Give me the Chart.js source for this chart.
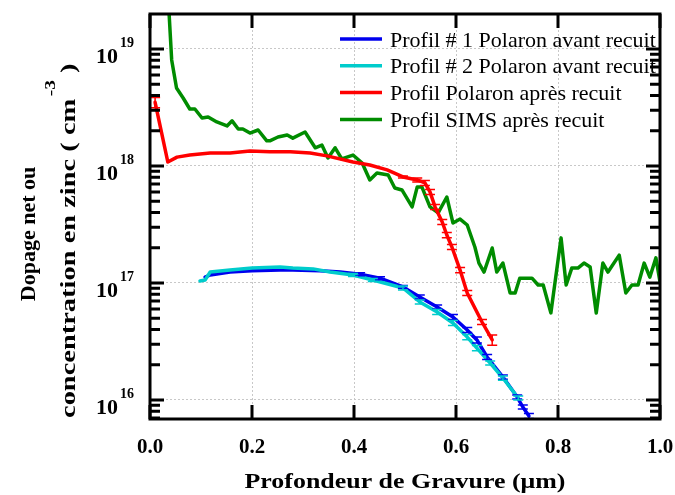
<!DOCTYPE html>
<html><head><meta charset="utf-8">
<script src="https://cdn.jsdelivr.net/npm/chart.js@4/dist/chart.umd.min.js"></script>
<style>html,body{margin:0;padding:0;background:#fff}#wrap{width:675px;height:495px}</style>
</head><body><div id="wrap"><canvas id="c" width="675" height="495"></canvas></div>
<script>
// ---- data ----
const xTickValues = [0, 0.2, 0.4, 0.6, 0.8, 1.0];
const yDecades = [16, 17, 18, 19];
const seriesLabels = ["Profil # 1 Polaron avant recuit", "Profil # 2 Polaron avant recuit", "Profil Polaron après recuit", "Profil SIMS après recuit"];
const xTitle = "Profondeur de Gravure (μm)";
const yTitle1 = "Dopage net ou";
const yTitle2 = "concentration en zinc ( cm";
const yTitleSup = "-3";
const yTitleEnd = " )";

const p1X = [0.108,0.118,0.157,0.200,0.255,0.280,0.333,0.373,0.412,0.451,0.496,0.529,0.563,0.594,0.622,0.641,0.661,0.692,0.720,0.731,0.743];
const p1Y = [1.12e17,1.17e17,1.24e17,1.27e17,1.29e17,1.29e17,1.27e17,1.24e17,1.19e17,1.10e17,9.25e16,7.59e16,6.24e16,5.12e16,3.97e16,3.26e16,2.33e16,1.57e16,1.06e16,8.71e15,7.3e15];
const p1Err = [0,0,0,0,0,0,0,0,0.03,0.03,0.03,0.04,0.04,0.05,0.05,0.06,0.05,0.04,0.04,0.04,0.05];

const p2X = [0.098,0.108,0.118,0.157,0.200,0.255,0.280,0.320,0.353,0.398,0.437,0.496,0.529,0.563,0.594,0.622,0.641,0.667,0.692,0.722];
const p2Y = [1.04e17,1.06e17,1.24e17,1.29e17,1.34e17,1.37e17,1.34e17,1.32e17,1.24e17,1.17e17,1.06e17,9.06e16,6.89e16,5.65e16,4.55e16,3.45e16,2.78e16,2.07e16,1.54e16,1.04e16];
const p2Err = [0,0,0,0,0,0,0,0,0,0.03,0.03,0.04,0.04,0.05,0.05,0.05,0.05,0.04,0.04,0.04];

const prX = [0.010,0.035,0.053,0.078,0.118,0.157,0.196,0.235,0.275,0.314,0.347,0.398,0.431,0.465,0.496,0.524,0.539,0.549,0.559,0.573,0.582,0.592,0.608,0.622,0.651,0.671];
const prY = [3.5e18,1.08e18,1.19e18,1.24e18,1.29e18,1.29e18,1.34e18,1.32e18,1.32e18,1.29e18,1.22e18,1.08e18,1.02e18,9.25e17,8.06e17,7.59e17,7.16e17,6.0e17,4.47e17,3.32e17,2.57e17,2.03e17,1.29e17,8.22e16,4.64e16,3.26e16];
const prErr = [0.10,0,0,0,0,0,0,0,0,0,0,0,0,0,0.02,0.04,0.05,0.05,0.05,0.05,0.05,0.05,0.05,0.05,0.05,0.10];

const simsX = [0.036,0.0425,0.052,0.065,0.078,0.088,0.102,0.114,0.131,0.151,0.161,0.173,0.182,0.196,0.212,0.229,0.235,0.251,0.269,0.280,0.304,0.324,0.337,0.349,0.363,0.376,0.398,0.416,0.431,0.445,0.467,0.480,0.494,0.514,0.524,0.533,0.549,0.565,0.582,0.594,0.608,0.622,0.637,0.645,0.655,0.671,0.680,0.692,0.706,0.716,0.725,0.749,0.761,0.771,0.786,0.806,0.816,0.827,0.839,0.851,0.863,0.875,0.888,0.898,0.920,0.933,0.945,0.957,0.969,0.980,0.992,1.000];
const simsY = [2.6e19,8.06e18,4.64e18,3.81e18,3.07e18,3.07e18,2.57e18,2.62e18,2.38e18,2.20e18,2.43e18,2.07e18,2.07e18,1.91e18,2.03e18,1.64e18,1.64e18,1.77e18,1.84e18,1.73e18,1.95e18,1.43e18,1.51e18,1.17e18,1.43e18,1.15e18,1.24e18,1.06e18,7.59e17,8.71e17,8.37e17,6.49e17,6.24e17,4.47e17,6.62e17,6.62e17,4.47e17,3.97e17,5.43e17,3.26e17,3.52e17,3.13e17,2.03e17,1.48e17,1.24e17,1.99e17,1.24e17,1.48e17,8.22e16,8.22e16,1.10e17,1.10e17,9.62e16,9.62e16,5.55e16,2.43e17,9.62e16,1.34e17,1.34e17,1.48e17,1.37e17,5.55e16,1.48e17,1.24e17,1.73e17,8.22e16,9.62e16,9.62e16,1.48e17,1.12e17,1.64e17,1.02e17];

const seriesColors = ["#0000ee", "#00cccc", "#ff0000", "#008c00"];

// ---- build datasets ----
function pts(xs, ys) { return xs.map((x, i) => ({ x: x, y: ys[i] })); }
const datasets = [
  { label: seriesLabels[0], data: pts(p1X, p1Y), errFrac: p1Err, borderColor: seriesColors[0], borderWidth: 3.5, order: 2 },
  { label: seriesLabels[1], data: pts(p2X, p2Y), errFrac: p2Err, borderColor: seriesColors[1], borderWidth: 3.5, order: 1 },
  { label: seriesLabels[2], data: pts(prX, prY), errFrac: prErr, borderColor: seriesColors[2], borderWidth: 3.5, order: 0 },
  { label: seriesLabels[3], data: pts(simsX, simsY), borderColor: seriesColors[3], borderWidth: 3.5, order: 3 }
].map(d => Object.assign({ pointRadius: 0, tension: 0, fill: false, borderJoinStyle: 'round', borderCapStyle: 'round' }, d));

const SERIF = '"Liberation Serif", "Times New Roman", serif';

const errorBars = {
  id: 'errorBars',
  afterDatasetsDraw(chart) {
    const ctx = chart.ctx, xs = chart.scales.x, ys = chart.scales.y;
    ctx.save();
    ctx.beginPath();
    ctx.rect(chart.chartArea.left, chart.chartArea.top, chart.chartArea.right - chart.chartArea.left, chart.chartArea.bottom - chart.chartArea.top);
    ctx.clip();
    chart.data.datasets.forEach(ds => {
      if (!ds.errFrac) return;
      ctx.strokeStyle = ds.borderColor; ctx.lineWidth = 1.5;
      ds.data.forEach((p, i) => {
        const e = ds.errFrac[i]; if (!e) return;
        const px = xs.getPixelForValue(p.x);
        const yHi = ys.getPixelForValue(p.y * (1 + e));
        const yLo = ys.getPixelForValue(p.y * (1 - e));
        ctx.beginPath();
        ctx.moveTo(px, yHi); ctx.lineTo(px, yLo);
        ctx.moveTo(px - 5, yHi); ctx.lineTo(px + 5, yHi);
        ctx.moveTo(px - 5, yLo); ctx.lineTo(px + 5, yLo);
        ctx.stroke();
      });
    });
    ctx.restore();
  }
};

const frameAndLabels = {
  id: 'frameAndLabels',
  afterDraw(chart) {
    const ctx = chart.ctx, a = chart.chartArea, xs = chart.scales.x, ys = chart.scales.y;
    ctx.save();
    // legend
    ctx.font = '22px ' + SERIF; ctx.textAlign = 'left'; ctx.textBaseline = 'alphabetic';
    chart.data.datasets.forEach((ds, i) => {
      const y = 39 + i * 26.8;
      ctx.strokeStyle = ds.borderColor; ctx.lineWidth = 3.5;
      ctx.beginPath(); ctx.moveTo(340, y); ctx.lineTo(382, y); ctx.stroke();
      ctx.fillStyle = '#000'; ctx.fillText(ds.label, 390, y + 7.5);
    });
    // frame
    ctx.strokeStyle = '#000'; ctx.lineWidth = 3; ctx.lineCap = 'butt';
    ctx.strokeRect(a.left, a.top, a.right - a.left, a.bottom - a.top);
    // x major ticks top & bottom
    xTickValues.forEach(v => {
      const px = xs.getPixelForValue(v);
      ctx.beginPath();
      ctx.moveTo(px, a.bottom); ctx.lineTo(px, a.bottom - 14);
      ctx.moveTo(px, a.top); ctx.lineTo(px, a.top + 14);
      ctx.stroke();
    });
    // y ticks: majors & minors left & right
    const minE = yDecades[0] - 1, maxE = yDecades[yDecades.length - 1];
    for (let e = minE; e <= maxE; e++) {
      for (let m = 1; m <= 9; m++) {
        const v = m * Math.pow(10, e);
        if (v < ys.min || v > ys.max) continue;
        const py = ys.getPixelForValue(v);
        const len = m === 1 ? 14 : 10;
        ctx.beginPath();
        ctx.moveTo(a.left, py); ctx.lineTo(a.left + len, py);
        ctx.moveTo(a.right, py); ctx.lineTo(a.right - len, py);
        ctx.stroke();
      }
    }
    // x tick labels
    ctx.fillStyle = '#000';
    ctx.font = 'bold 21px ' + SERIF; ctx.textAlign = 'center'; ctx.textBaseline = 'alphabetic';
    xTickValues.forEach(v => ctx.fillText(v.toFixed(1), xs.getPixelForValue(v), a.bottom + 34));
    // y tick labels 10^n
    yDecades.forEach(e => {
      const py = ys.getPixelForValue(Math.pow(10, e));
      ctx.font = 'bold 22px ' + SERIF; ctx.textAlign = 'right';
      ctx.fillText('10', 118, py + 14);
      ctx.font = 'bold 14px ' + SERIF; ctx.textAlign = 'left';
      ctx.fillText(String(e), 120, py - 2);
    });
    // x title
    ctx.font = 'bold 22px ' + SERIF; ctx.textAlign = 'center';
    const tw = ctx.measureText(xTitle).width;
    ctx.save(); ctx.translate(405, 488); ctx.scale(321 / tw, 1); ctx.fillText(xTitle, 0, 0); ctx.restore();
    // y title (rotated)
    ctx.save();
    ctx.rotate(-Math.PI / 2);
    ctx.font = 'bold 22px ' + SERIF; ctx.textAlign = 'center';
    ctx.fillText(yTitle1, -234, 35);
    ctx.textAlign = 'left';
    const w1 = ctx.measureText(yTitle2).width;
    ctx.font = 'bold 15px ' + SERIF; const ws = ctx.measureText(yTitleSup).width;
    ctx.font = 'bold 22px ' + SERIF; const we = ctx.measureText(yTitleEnd).width;
    const total = w1 + ws + we;
    const k = 352 / total;
    ctx.translate(-242 - 176, 0);
    ctx.scale(k, 1);
    ctx.fillText(yTitle2, 0, 75);
    ctx.font = 'bold 15px ' + SERIF; ctx.fillText(yTitleSup, w1 + 2, 55);
    ctx.font = 'bold 22px ' + SERIF; ctx.fillText(yTitleEnd, w1 + ws + 2, 75);
    ctx.restore();
    ctx.restore();
  }
};

new Chart(document.getElementById('c'), {
  type: 'line',
  data: { datasets: datasets },
  options: {
    responsive: false, animation: false, devicePixelRatio: 1,
    layout: { padding: { left: 150, top: 14, right: 15, bottom: 76 } },
    plugins: { legend: { display: false }, tooltip: { enabled: false } },
    scales: {
      x: {
        type: 'linear', min: 0, max: 1,
        ticks: { display: false, stepSize: 0.2 },
        grid: { color: '#c8c8c8', lineWidth: 1, drawTicks: false },
        border: { display: false, dash: [2, 2] }
      },
      y: {
        type: 'logarithmic', min: 6.88e15, max: 1.99e19,
        afterBuildTicks: s => { s.ticks = yDecades.map(e => ({ value: Math.pow(10, e) })); },
        ticks: { display: false },
        grid: { color: '#c8c8c8', lineWidth: 1, drawTicks: false },
        border: { display: false, dash: [2, 2] }
      }
    }
  },
  plugins: [errorBars, frameAndLabels]
});
</script>
</body></html>
